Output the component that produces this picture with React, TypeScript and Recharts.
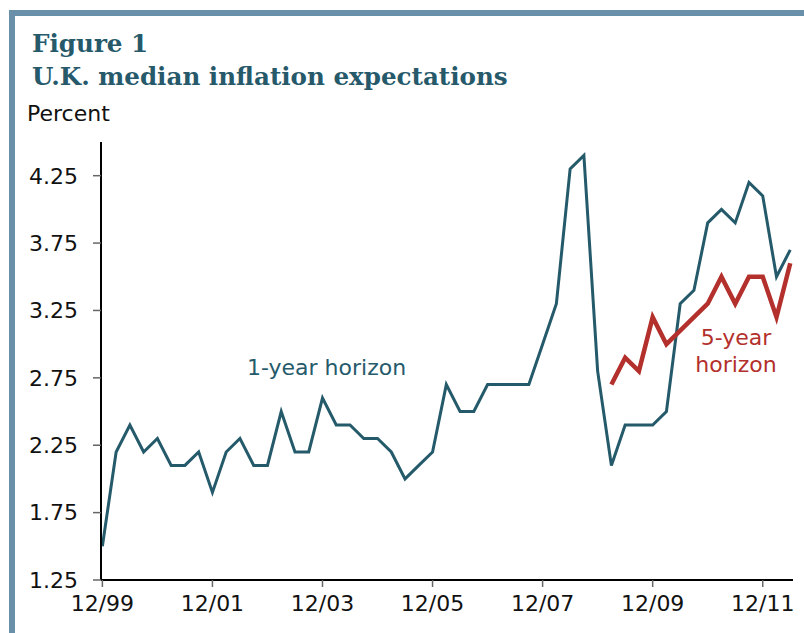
import React from "react";
import { Line, LineChart, XAxis, YAxis } from "recharts";

// quarterly survey dates, 12/99 through 6/12
const quarters = [
  "12/99", "3/00", "6/00", "9/00", "12/00", "3/01", "6/01", "9/01",
  "12/01", "3/02", "6/02", "9/02", "12/02", "3/03", "6/03", "9/03",
  "12/03", "3/04", "6/04", "9/04", "12/04", "3/05", "6/05", "9/05",
  "12/05", "3/06", "6/06", "9/06", "12/06", "3/07", "6/07", "9/07",
  "12/07", "3/08", "6/08", "9/08", "12/08", "3/09", "6/09", "9/09",
  "12/09", "3/10", "6/10", "9/10", "12/10", "3/11", "6/11", "9/11",
  "12/11", "3/12", "6/12",
];

const oneYear = [
  1.5, 2.2, 2.4, 2.2, 2.3, 2.1, 2.1, 2.2,
  1.9, 2.2, 2.3, 2.1, 2.1, 2.5, 2.2, 2.2,
  2.6, 2.4, 2.4, 2.3, 2.3, 2.2, 2.0, 2.1,
  2.2, 2.7, 2.5, 2.5, 2.7, 2.7, 2.7, 2.7,
  3.0, 3.3, 4.3, 4.4, 2.8, 2.1, 2.4, 2.4,
  2.4, 2.5, 3.3, 3.4, 3.9, 4.0, 3.9, 4.2,
  4.1, 3.5, 3.7,
];

// 5-year series begins in 3/09
const fiveYearStart = "3/09";
const fiveYear = [2.7, 2.9, 2.8, 3.2, 3.0, 3.1, 3.2, 3.3, 3.5, 3.3, 3.5, 3.5, 3.2, 3.6];

const xTickLabels = ["12/99", "12/01", "12/03", "12/05", "12/07", "12/09", "12/11"];
const yTicks = [1.25, 1.75, 2.25, 2.75, 3.25, 3.75, 4.25];

const startIdx = quarters.indexOf(fiveYearStart);
const data = quarters.map((q, i) => ({
  q: i,
  label: q,
  oneYear: oneYear[i],
  fiveYear: i >= startIdx ? fiveYear[i - startIdx] : null,
}));
const xTicks = xTickLabels.map((l) => quarters.indexOf(l));

const TEAL = "#255a6b";
const RED = "#b3302c";
const tickFont = { fontFamily: "DejaVu Sans", fontSize: 22, fill: "#111" };

export default function App() {
  return (
    <div style={{ position: "absolute", left: 0, top: 0, width: 804, height: 633, background: "#fff", overflow: "hidden" }}>
      <div style={{ position: "absolute", left: 9, top: 10, width: 795, height: 6, background: "#6a8fa8" }} />
      <div style={{ position: "absolute", left: 9, top: 10, width: 6, height: 623, background: "#6a8fa8" }} />
      <div style={{ position: "absolute", left: 0, top: 0 }}>
        <LineChart
          width={804}
          height={633}
          data={data}
          margin={{ top: 142, right: 11, bottom: 23, left: 0 }}
        >
          <XAxis
            dataKey="q"
            type="number"
            domain={[-0.1, 50.2]}
            ticks={xTicks}
            tickFormatter={(v: number) => quarters[v]}
            height={30}
            tickSize={7}
            tickMargin={8}
            axisLine={{ stroke: "#000", strokeWidth: 2 }}
            tickLine={{ stroke: "#666", strokeWidth: 1.5 }}
            tick={tickFont}
            interval={0}
          />
          <YAxis
            type="number"
            domain={[1.25, 4.5]}
            ticks={yTicks}
            tickFormatter={(v: number) => v.toFixed(2)}
            width={101}
            tickSize={8}
            tickMargin={15}
            axisLine={{ stroke: "#000", strokeWidth: 2 }}
            tickLine={{ stroke: "#666", strokeWidth: 1.5 }}
            tick={tickFont}
            interval={0}
          />
          <Line
            type="linear"
            dataKey="oneYear"
            stroke={TEAL}
            strokeWidth={3}
            dot={false}
            isAnimationActive={false}
          />
          <Line
            type="linear"
            dataKey="fiveYear"
            stroke={RED}
            strokeWidth={4.5}
            dot={false}
            connectNulls={false}
            isAnimationActive={false}
          />
        </LineChart>
      </div>
      <svg width={804} height={633} style={{ position: "absolute", left: 0, top: 0, pointerEvents: "none" }}>
        <text x={32} y={52} fontFamily="DejaVu Serif" fontWeight="bold" fontSize={24.6} fill="#26596a">
          Figure 1
        </text>
        <text x={32} y={85} fontFamily="DejaVu Serif" fontWeight="bold" fontSize={24.6} fill="#26596a">
          U.K. median inflation expectations
        </text>
        <text x={27} y={121} fontFamily="DejaVu Sans" fontSize={22} fill="#111">
          Percent
        </text>
        <text x={247} y={375} fontFamily="DejaVu Sans" fontSize={22} fill={TEAL}>
          1-year horizon
        </text>
        <text x={736} y={345} textAnchor="middle" fontFamily="DejaVu Sans" fontSize={22} fill={RED}>
          5-year
        </text>
        <text x={736} y={372} textAnchor="middle" fontFamily="DejaVu Sans" fontSize={22} fill={RED}>
          horizon
        </text>
      </svg>
    </div>
  );
}
